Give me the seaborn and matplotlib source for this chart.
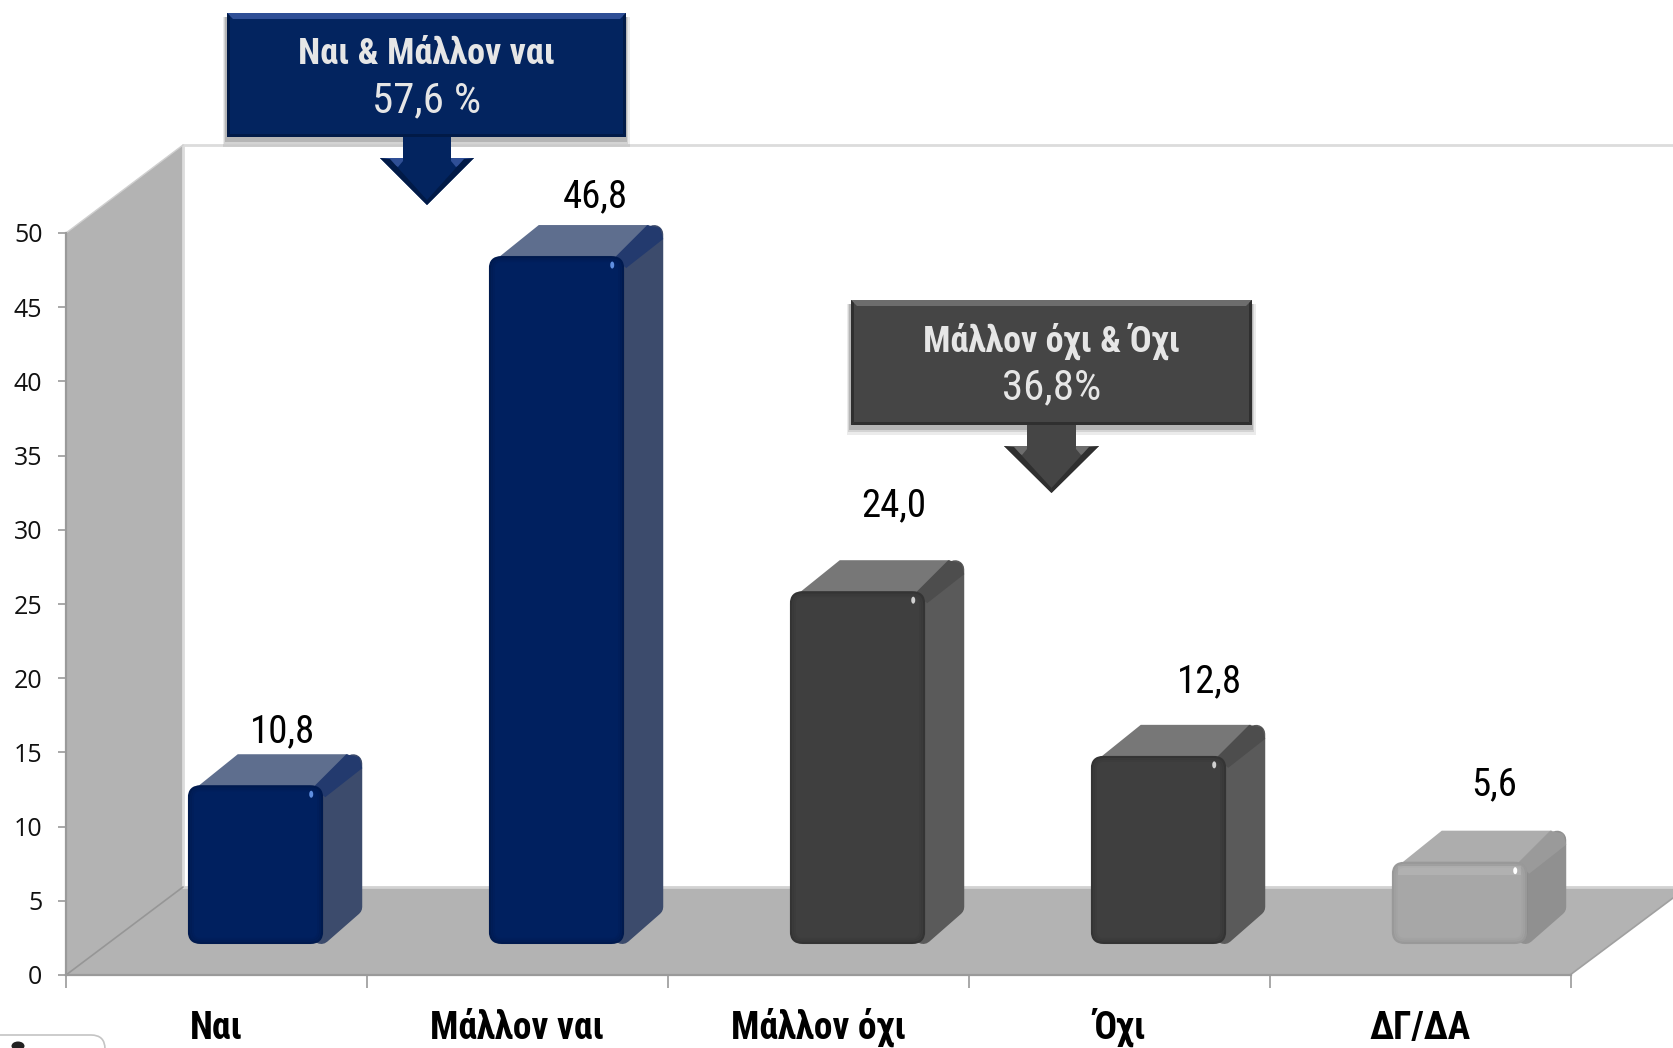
import numpy as np
import pandas as pd
import matplotlib
matplotlib.use("Agg")
import matplotlib.pyplot as plt
from matplotlib.patches import FancyBboxPatch, Polygon, Rectangle, Ellipse
import seaborn as sns

# data
categories = ["Ναι", "Μάλλον ναι", "Μάλλον όχι", "Όχι", "ΔΓ/ΔΑ"]
values = [10.8, 46.8, 24.0, 12.8, 5.6]
y_ticks = [0, 5, 10, 15, 20, 25, 30, 35, 40, 45, 50]
callout_blue = ["Ναι & Μάλλον ναι", "57,6 %"]
callout_dark = ["Μάλλον όχι & Όχι", "36,8%"]

# colours: front, top, side, rim, highlight
face_cols = ["#00205f", "#00205f", "#3f3f3f", "#3f3f3f", "#a7a7a7"]
top_cols = ["#5e6e8e", "#5e6e8e", "#777777", "#777777", "#adadad"]
side_cols = ["#3c4b6c", "#3c4b6c", "#5a5a5a", "#5a5a5a", "#909090"]
rim_cols = ["#233a6e", "#233a6e", "#4d4d4d", "#4d4d4d", "#9a9a9a"]
spark_cols = ["#5f8fe0", "#5f8fe0", "#d0d0d0", "#d0d0d0", "#ffffff"]

# label centres in picture pixels
label_x = [283, 595, 894, 1210, 1494]
label_y = [732, 197, 506, 682, 785]

W, H = 1673, 1048
DX, DY = 39, -31

sns.set_theme(style="white")
plt.rcParams["font.family"] = ["Roboto Condensed", "DejaVu Sans"]


def pos(x0, y_top, x1, y_bot):
    return [x0 / W, 1 - y_bot / H, (x1 - x0) / W, (y_bot - y_top) / H]


fig = plt.figure(figsize=(W / 100, H / 100), dpi=100, facecolor="white")

# background in pixel coordinates: walls and floor
bg = fig.add_axes([0, 0, 1, 1], zorder=0)
bg.set_xlim(0, W)
bg.set_ylim(H, 0)
bg.axis("off")
GREY = "#b3b3b3"
bg.add_patch(Polygon([(66, 233), (183, 145), (183, 887), (66, 975)], fc=GREY, ec="none"))
bg.add_patch(Polygon([(66, 975), (183, 887), (W, 887), (W, 898), (1570, 975)], fc=GREY, ec="none"))
bg.plot([183, W], [145, 145], color="#dcdcdc", lw=2)
bg.plot([183, 183], [145, 887], color="#dcdcdc", lw=2)
bg.plot([183, W], [887, 887], color="#d2d2d2", lw=2)
bg.plot([66, 183], [975, 887], color="#969696", lw=1.2)
bg.plot([1570, W], [975, 898], color="#a0a0a0", lw=1.2)
bg.plot([66, 183], [233, 145], color="#d0d0d0", lw=1)
# the small widget cut off in the bottom left corner
bg.add_patch(FancyBboxPatch((-20, 1035), 125, 40, boxstyle="round,pad=0,rounding_size=14",
                            fc="white", ec="#c4c4c4", lw=1.2))
bg.add_patch(Ellipse((18, 1046), 13, 9, fc="#222222", ec="none"))

# main axis with the 0-50 scale
ax = fig.add_axes(pos(66, 233, 1571, 975), zorder=1, facecolor="none")
ax.set_xlim(-0.5, 4.5)
ax.set_ylim(0, 50)
ax.set_yticks(y_ticks)
ax.set_yticklabels([str(t) for t in y_ticks], family="Open Sans", fontsize=18, color="#111111")
ax.set_xticks(np.arange(-0.5, 5, 1))
ax.set_xticklabels([])
ax.set_xticks(np.arange(5), minor=True)
ax.set_xticklabels(categories, minor=True, fontsize=27, fontweight="bold", color="black", va="baseline")
ax.tick_params(axis="y", length=6, width=1.2, color="#999999", pad=11, left=True)
ax.tick_params(axis="x", which="major", length=9, width=1.2, color="#999999", bottom=True)
ax.tick_params(axis="x", which="minor", length=0, pad=46)
sns.despine(ax=ax, top=True, right=True)
ax.spines["left"].set_color("#9a9a9a")
ax.spines["bottom"].set_color("#9a9a9a")
ax.spines["left"].set_linewidth(1.6)
ax.spines["bottom"].set_linewidth(1.6)

# bars: front plane of the box, its own baseline and scale
bar_ax = fig.add_axes(pos(105, 209, 1610, 944), zorder=2, facecolor="none")
df = pd.DataFrame({"cat": categories, "val": values})
sns.barplot(data=df, x="cat", y="val", hue="cat", palette=face_cols, width=0.45,
            saturation=1, legend=False, ax=bar_ax, order=categories, hue_order=categories,
            linewidth=0, edgecolor="none")
bar_ax.set_xlim(-0.5, 4.5)
bar_ax.set_ylim(0, 50)
bar_ax.axis("off")

fig.canvas.draw()
to_px = bg.transData.inverted()
for i, bar in enumerate(bar_ax.patches[:5]):
    bb = bar.get_window_extent().transformed(to_px)
    x0, x1 = bb.x0, bb.x1
    y_top, y_bot = min(bb.y0, bb.y1), max(bb.y0, bb.y1)
    tr = bg.transData
    # side and top first, rounded by a thick round-joined outline
    r = 9
    side = [(x1 - 2, y_top + 10), (x1 + DX - r, y_top + DY + r), (x1 + DX - r, y_bot + DY - r + 3), (x1 - 2, y_bot - r)]
    bar_ax.add_patch(Polygon(side, fc=side_cols[i], ec=side_cols[i], lw=r * 2 * 0.72, joinstyle="round",
                             transform=tr, clip_on=False, zorder=0.5))
    top = [(x0 + 9, y_top + 2), (x0 + 50, y_top + DY), (x1 + DX - 14, y_top + DY), (x1 - 4, y_top + 2)]
    bar_ax.add_patch(Polygon(top, fc=top_cols[i], ec="none", transform=tr, clip_on=False, zorder=0.6))
    rim = [(x1 - 10, y_top + 2), (x1 + DX - 16, y_top + DY), (x1 + DX - 3, y_top + DY + 3),
           (x1 + DX, y_top + DY + 14), (x1 + 2, y_top + 12)]
    bar_ax.add_patch(Polygon(rim, fc=rim_cols[i], ec="none", transform=tr, clip_on=False, zorder=0.7))
    # front: clip the seaborn bar to a rounded box
    w, h = x1 - x0, y_bot - y_top
    rounded = FancyBboxPatch((x0, y_top), w, h, boxstyle="round,pad=0,rounding_size=13", transform=tr)
    bar.set_clip_path(rounded)
    bar.set_zorder(1)
    # bevel on the front
    for k, al in [(1, 0.16), (3, 0.08), (5, 0.04)]:
        edge = "black" if i < 4 else "#555555"
        bar_ax.add_patch(FancyBboxPatch((x0 + k, y_top + k), w - 2 * k, h - 2 * k,
                                        boxstyle="round,pad=0,rounding_size=%d" % max(13 - k, 3),
                                        fc="none", ec=edge, alpha=al, lw=1.6, transform=tr,
                                        clip_on=False, zorder=1.2))
    if i == 4:
        bar_ax.add_patch(Rectangle((x0 + 6, y_top + 4), w - 12, 9, fc="#b8b8b8", alpha=0.6, ec="none",
                                   transform=tr, clip_on=False, zorder=1.1))
    bar_ax.add_patch(Ellipse((x1 - 12, y_top + 9), 4, 7, fc=spark_cols[i], ec="none",
                             transform=tr, clip_on=False, zorder=1.5))

# top layer: value labels and callouts
fg = fig.add_axes([0, 0, 1, 1], zorder=3, facecolor="none")
fg.set_xlim(0, W)
fg.set_ylim(H, 0)
fg.axis("off")

for v, lx, ly in zip(values, label_x, label_y):
    fg.text(lx, ly, f"{v:.1f}".replace(".", ","), fontsize=28, color="black", ha="center", va="center")


def callout(x0, y0, x1, y1, shaft0, shaft1, head0, head1, neck_y, tip_y, fc, light, dark, lines):
    # soft shadow
    for k, al in [(8, 0.08), (5, 0.1), (3, 0.14)]:
        fg.add_patch(Rectangle((x0 - k / 2, y0 + 4), x1 - x0 + k, y1 - y0 + k - 2, fc="black", alpha=al, ec="none"))
    tip_x = (head0 + head1) / 2
    arrow = [(shaft0, y1 - 10), (shaft1, y1 - 10), (shaft1, neck_y), (head1, neck_y), (tip_x, tip_y), (head0, neck_y), (shaft0, neck_y)]
    fg.add_patch(Polygon(arrow, fc=fc, ec="none"))
    # shading on the head of the arrow
    fg.add_patch(Polygon([(head0, neck_y), (shaft0, neck_y), (shaft0, neck_y + 3), (head0 + 18, neck_y + 9)], fc=light, ec="none"))
    fg.add_patch(Polygon([(head1, neck_y), (shaft1, neck_y), (shaft1, neck_y + 3), (head1 - 18, neck_y + 9)], fc=light, ec="none"))
    fg.add_patch(Polygon([(head0, neck_y), (tip_x, tip_y), (tip_x, tip_y - 5), (head0 + 10, neck_y + 1)], fc=dark, ec="none"))
    fg.add_patch(Polygon([(head1, neck_y), (tip_x, tip_y), (tip_x, tip_y - 5), (head1 - 10, neck_y + 1)], fc=dark, ec="none"))
    # box with bevel
    fg.add_patch(Rectangle((x0, y0), x1 - x0, y1 - y0, fc=fc, ec="none"))
    b = 6
    fg.add_patch(Polygon([(x0, y0), (x1, y0), (x1 - b, y0 + b), (x0 + b, y0 + b)], fc=light, ec="none"))
    fg.add_patch(Polygon([(x0, y1), (x1, y1), (x1 - 3, y1 - 3), (x0 + 3, y1 - 3)], fc=dark, ec="none"))
    fg.add_patch(Polygon([(x0, y0), (x0 + 3, y0 + 3), (x0 + 3, y1 - 3), (x0, y1)], fc=dark, ec="none"))
    fg.add_patch(Polygon([(x1, y0), (x1 - 3, y0 + 3), (x1 - 3, y1 - 3), (x1, y1)], fc=dark, ec="none"))
    cx = (x0 + x1) / 2
    fg.text(cx, y0 + 41, lines[0], fontsize=26, fontweight="bold", color="#e6e6e6", ha="center", va="center")
    fg.text(cx, y0 + 88, lines[1], fontsize=31, color="#e6e6e6", ha="center", va="center")


callout(227, 13, 626, 137, 403, 451, 380, 474, 158, 205, "#03245f", "#2f4f96", "#011a47", callout_blue)
callout(851, 300, 1252, 425, 1027, 1076, 1004, 1099, 446, 493, "#454545", "#6d6d6d", "#2f2f2f", callout_dark)

fig.savefig("out.png", dpi=100)
